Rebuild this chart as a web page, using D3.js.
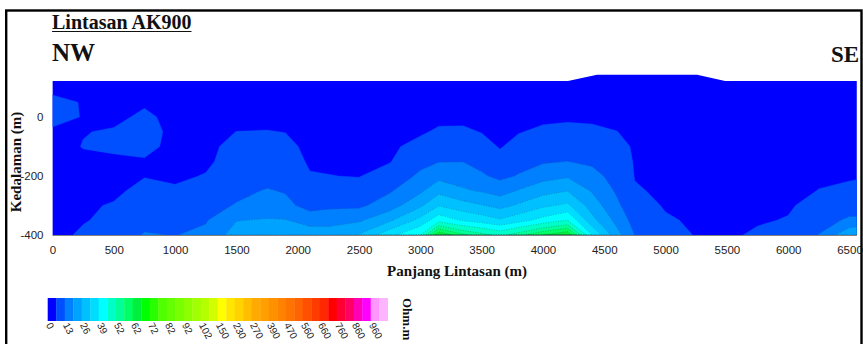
<!DOCTYPE html>
<html><head><meta charset="utf-8">
<script src="https://cdn.jsdelivr.net/npm/d3@7"></script>
<style>body{margin:0;background:#fff;} svg{display:block}</style>
</head><body>
<svg id="chart" width="863" height="344"></svg>
<script>
// ---- data ----
const gridX = [0,250,500,750,1000,1250,1500,1750,1900,2100,2250,2500,2750,3000,3150,3350,3500,3650,3800,4000,4200,4400,4600,4750,5000,5250,5500,5750,6000,6250,6500,6560];
const gridDepth = [150,100,50,0,-50,-100,-150,-200,-250,-300,-350,-400];
// resistivity (Ohm.m) per column, top to bottom
const resistivityColumns = [
  [3,5,8,8,5.8,4.5,4.5,4.5,4.5,4.7,4.8,4.5],
  [3,4,6.2,6.3,6.3,6.7,5.5,5,5.3,5.8,6.1,7.5],
  [3,3.5,4,5.3,7,7.2,5.8,5,5.5,6.9,8,9],
  [3,4.5,5.8,7.5,8,7.5,6.2,6.3,8,9.5,11,13.5],
  [3,3.5,4.5,5,5.5,5.5,5.5,5.6,7.2,8.5,10,12.8],
  [3,3.5,4,4.5,5,5.3,5.5,6.8,9,10.5,12.5,14.5],
  [3,3.5,4,5,6.55,8,9,10,11.2,13.5,19.3,22.5],
  [3,3.5,4,5,6.7,8,9,10.5,13.5,16,20,22.5],
  [3,3.5,4,4.8,6.4,7.8,8.8,10.3,12.5,14.8,19.8,22],
  [3,3.5,4,4.3,4.8,5.3,5.9,6.8,8.5,10.5,17,23],
  [3,3.5,4,4.3,4.7,5.2,5.8,6.6,8.5,11.3,18,21.5],
  [3,3.5,4,4.3,4.7,5.1,5.6,6.3,8.5,11.8,18.5,26.5],
  [3,3.5,4,4.5,5,5.5,6.2,8.8,12.3,16.3,25,37],
  [3.5,3.8,4.3,5,5.8,8.3,11.1,14.2,18.3,24.9,34.6,45.5],
  [3.5,3.8,4.3,5.2,7.3,10,12.7,17.5,24.1,32.2,43.1,67],
  [3.5,3.8,4.3,5.2,7.4,10.1,12.8,16.3,20.3,28.6,38.2,58],
  [3.5,3.8,4.3,5,6.3,8.6,11,13.8,18.9,26.4,36.1,54],
  [3.5,3.8,4.2,4.7,5.3,6.1,8.4,11.5,16.8,24,33.3,50],
  [3.5,3.8,4.3,5,6.2,8.5,10.8,13.4,19.9,26.9,36.5,55],
  [3.5,3.8,4.3,5.3,7.6,9.9,12.2,17,23.7,31.3,41.2,62],
  [3.5,3.8,4.3,5.6,8.1,10.5,13,18.7,25.8,33.8,45.5,67],
  [3.5,3.8,4.3,5.4,7.7,9.8,11.9,15,18.9,23,28.1,39],
  [3.5,3.8,4.3,5,6.6,8,9.4,10.8,12.2,14.4,17.6,22],
  [3.5,3.8,4.2,4.6,5.3,5.95,6.1,6.3,6.9,8.5,10.5,12.8],
  [3.5,3.8,4.1,4.4,4.7,5,5.2,5.5,5.8,6.1,7,8],
  [3.5,3.8,4.1,4.3,4.5,4.7,4.9,5.1,5.3,5.6,5.9,6.3],
  [3.5,3.8,4,4.2,4.4,4.6,4.8,5,5.1,5.2,5.4,5.6],
  [3.5,3.8,4,4.2,4.4,4.6,4.8,5,5.3,5.6,6,7.3],
  [3.5,3.8,4,4.2,4.4,4.6,4.8,5,5.4,5.9,6.8,8.5],
  [3.5,3.8,4,4.2,4.5,4.8,5.3,5.9,6.6,8.5,10.5,13.2],
  [3.5,3.8,4,4.2,4.5,4.8,5.3,6.1,7.3,10,14,25],
  [3.5,3.8,4,4.2,4.5,4.8,5.3,6.2,7.4,10,14,26]
];
const surfaceX = [0,4204,4441,5257,5485,6560];
const surfaceElev = [122,122,143,143,122,122];
const xTicks = [0,500,1000,1500,2000,2500,3000,3500,4000,4500,5000,5500,6000,6500];
const yTicks = [0,-200,-400];
const legendLabels = ["0","13","26","39","52","62","72","82","92","102","150","230","270","390","470","560","660","760","860","960"];
const bandBreaks = [0,6.5,13,19.5,26,32.5,39,45.5,52,57,62,67,72,77,82,87,92,97,102,126,150,190,230,250,270,330,390,430,470,515,560,610,660,710,760,810,860,910,960,1010];
const bandColors = ["#0000FF","#0050FF","#0080FF","#00A2FF","#00C0FF","#00DCFF","#00FFFF","#00FFC8","#00FF96","#00FF64",
  "#00F03C","#00FF00","#28FF00","#50FF00","#64FF00","#78FF00","#8CFF00","#A0FF00","#B4FF00","#D2FF00",
  "#FFFF00","#FFE600","#FFD200","#FFBE00","#FFAA00","#FFA000","#FF9100","#FF8200","#FF7300","#FF6400",
  "#FF5000","#FF3C00","#FF2800","#FF0000","#FF0032","#FF0064","#FF00B4","#FF00FF","#FF96FF","#FFB4FF"];

// ---- drawing ----
const svg = d3.select('#chart');
const xScale = d3.scaleLinear().domain([0,6500]).range([52.5,849.5]);
const yScale = d3.scaleLinear().domain([-400,0]).range([235,117]);
const nx = gridX.length, ny = gridDepth.length;
const xIdx = d3.scaleLinear().domain(d3.range(nx)).range(gridX).clamp(true);
const yIdx = d3.scaleLinear().domain(d3.range(ny)).range(gridDepth).clamp(true);

const values = new Array(nx*ny);
for (let j=0;j<ny;j++) for (let i=0;i<nx;i++) values[j*nx+i] = resistivityColumns[i][j];

const contours = d3.contours().size([nx,ny]).thresholds(bandBreaks)(values);
const proj = d3.geoTransform({point(x,y){ this.stream.point(xScale(xIdx(x-0.5)), yScale(yIdx(y-0.5))); }});
const path = d3.geoPath(proj);

const defs = svg.append('defs');
const surfPts = surfaceX.map((x,i)=>[xScale(x), yScale(surfaceElev[i])]);
surfPts.push([xScale(6560), yScale(-400)], [xScale(0), yScale(-400)]);
defs.append('clipPath').attr('id','topo').append('path').attr('d', d3.line()(surfPts)+'Z');

const plot = svg.append('g').attr('clip-path','url(#topo)');
contours.forEach((c,k)=>{
  if (!c.coordinates.length) return;
  plot.append('path').attr('d', path(c)).attr('fill', bandColors[k]).attr('stroke', bandColors[k]).attr('stroke-width',0.3);
});
contours.forEach((c,k)=>{
  if (k<2 || !c.coordinates.length) return;
  plot.append('path').attr('d', path(c)).attr('fill','none').attr('stroke','#1a1a40').attr('stroke-opacity',0.45).attr('stroke-width',0.6).attr('stroke-dasharray','1 1.5');
});

// bottom frame line
svg.append('line').attr('x1',xScale(0)).attr('x2',xScale(6560)).attr('y1',235.5).attr('y2',235.5).attr('stroke','#808080').attr('stroke-width',1);

// axes
const xAxis = svg.append('g').attr('transform','translate(0,235)')
  .call(d3.axisBottom(xScale).tickValues(xTicks).tickSize(0).tickPadding(11).tickFormat(d=>d));
const yAxis = svg.append('g').attr('transform','translate(52.5,0)')
  .call(d3.axisLeft(yScale).tickValues(yTicks).tickSize(0).tickPadding(9).tickFormat(d=>d));
[xAxis,yAxis].forEach(a=>{
  a.select('.domain').remove();
  a.selectAll('text').attr('font-family','Liberation Sans, Arial, sans-serif').attr('font-size','11.5px').attr('fill','#222');
});

const serif = 'Liberation Serif, Times New Roman, serif';
const title = svg.append('text').attr('x',52).attr('y',29).text('Lintasan AK900')
  .attr('font-family',serif).attr('font-weight','bold').attr('font-size','20px').attr('fill','#111');
const tl = title.node().getComputedTextLength();
svg.append('line').attr('x1',52).attr('x2',52+tl).attr('y1',31.5).attr('y2',31.5).attr('stroke','#111').attr('stroke-width',1.2);
svg.append('text').attr('x',52).attr('y',61).text('NW').attr('font-family',serif).attr('font-weight','bold').attr('font-size','25px').attr('fill','#111');
svg.append('text').attr('x',831).attr('y',62).text('SE').attr('font-family',serif).attr('font-weight','bold').attr('font-size','23px').attr('fill','#111');
svg.append('text').attr('transform','translate(21,162) rotate(-90)').attr('text-anchor','middle').text('Kedalaman (m)')
  .attr('font-family',serif).attr('font-weight','bold').attr('font-size','15px').attr('fill','#111');
svg.append('text').attr('x',457).attr('y',276).attr('text-anchor','middle').text('Panjang Lintasan (m)')
  .attr('font-family',serif).attr('font-weight','bold').attr('font-size','15px').attr('fill','#111');

// legend
const lgX0 = 47.7, cellW = 8.5, lgY = 298, lgH = 23;
const lg = svg.append('g');
lg.selectAll('rect').data(bandColors).enter().append('rect')
  .attr('x',(d,i)=>lgX0+i*cellW).attr('y',lgY).attr('width',cellW+0.3).attr('height',lgH).attr('fill',d=>d);
lg.selectAll('text').data(legendLabels).enter().append('text')
  .attr('transform',(d,i)=>`translate(${lgX0+i*2*cellW-2},${lgY+lgH+4}) rotate(62)`)
  .text(d=>d).attr('font-family','Liberation Sans, Arial, sans-serif').attr('font-size','10px').attr('fill','#222');
svg.append('text').attr('transform','translate(403,298) rotate(90)').text('Ohm.m')
  .attr('font-family',serif).attr('font-weight','bold').attr('font-size','13px').attr('fill','#111');

// outer border
svg.append('rect').attr('x',6.2).attr('y',10.5).attr('width',855.3).attr('height',400).attr('fill','none').attr('stroke','#000').attr('stroke-width',2.4);
</script>
</body></html>
